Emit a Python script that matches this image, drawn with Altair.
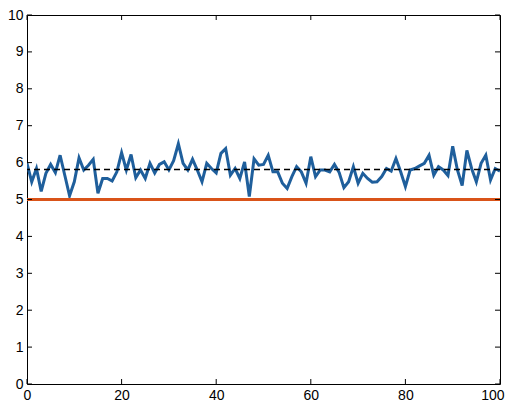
import altair as alt
import pandas as pd

# ---- data ----
x_vals = list(range(101))
series = [
    5.98, 5.48, 5.84, 5.22, 5.71, 5.95, 5.73, 6.20, 5.65, 5.10,
    5.48, 6.13, 5.80, 5.93, 6.09, 5.17, 5.57, 5.57, 5.50, 5.75,
    6.27, 5.80, 6.22, 5.59, 5.80, 5.57, 5.98, 5.72, 5.95, 6.02,
    5.80, 6.05, 6.51, 5.98, 5.80, 6.09, 5.80, 5.48, 5.98, 5.84,
    5.72, 6.25, 6.38, 5.66, 5.84, 5.57, 6.02, 5.08, 6.10, 5.93,
    5.95, 6.20, 5.75, 5.75, 5.44, 5.30, 5.62, 5.89, 5.75, 5.44,
    6.16, 5.62, 5.80, 5.80, 5.75, 5.95, 5.73, 5.32, 5.48, 5.89,
    5.44, 5.71, 5.57, 5.47, 5.48, 5.62, 5.84, 5.77, 6.11, 5.75,
    5.35, 5.80, 5.84, 5.91, 5.98, 6.20, 5.66, 5.89, 5.80, 5.65,
    6.44, 5.80, 5.38, 6.33, 5.84, 5.48, 5.98, 6.20, 5.53, 5.84,
    5.77,
]
threshold = 5.0
mean_level = 5.81
x_ticks = [0, 20, 40, 60, 80, 100]
y_ticks = list(range(0, 11))

W, H = 473, 369
FONT = "Liberation Sans"
BLUE = "#1f5f9c"
ORANGE = "#d95319"

df = pd.DataFrame({"x": x_vals, "y": series})
xt = pd.DataFrame({"t": x_ticks})
yt = pd.DataFrame({"t": y_ticks})

xs = alt.Scale(domain=[0, 100], nice=False, zero=False)
ys = alt.Scale(domain=[0, 10], nice=False, zero=False)

x_axis = alt.Axis(values=x_ticks, ticks=False, domain=False, grid=False,
                  labelFontSize=14, labelFont=FONT, labelColor="black",
                  labelPadding=4, title=None, labelFlush=True,
                  labelFlushOffset=4, labelOverlap=False)
y_axis = alt.Axis(values=y_ticks, ticks=False, domain=False, grid=False,
                  labelFontSize=14, labelFont=FONT, labelColor="black",
                  labelPadding=4, title=None, labelFlush=False,
                  labelOverlap=False)

line = alt.Chart(df).mark_line(color=BLUE, strokeWidth=3, clip=True).encode(
    x=alt.X("x:Q", scale=xs, axis=x_axis),
    y=alt.Y("y:Q", scale=ys, axis=y_axis),
)

thr = alt.Chart().mark_rule(color=ORANGE, strokeWidth=3).encode(
    y=alt.datum(threshold, scale=ys, axis=y_axis)
)
mean = alt.Chart().mark_rule(color="black", strokeWidth=1.5, strokeDash=[6, 4]).encode(
    y=alt.datum(mean_level, scale=ys, axis=y_axis)
)

tick_len = 5
ticks_bottom = alt.Chart(xt).mark_rule(color="black", strokeWidth=1).encode(
    x=alt.X("t:Q", scale=xs, axis=x_axis), y=alt.value(H), y2=alt.value(H - tick_len))
ticks_top = alt.Chart(xt).mark_rule(color="black", strokeWidth=1).encode(
    x=alt.X("t:Q", scale=xs, axis=x_axis), y=alt.value(0), y2=alt.value(tick_len))
ticks_left = alt.Chart(yt).mark_rule(color="black", strokeWidth=1).encode(
    y=alt.Y("t:Q", scale=ys, axis=y_axis), x=alt.value(0), x2=alt.value(tick_len))
ticks_right = alt.Chart(yt).mark_rule(color="black", strokeWidth=1).encode(
    y=alt.Y("t:Q", scale=ys, axis=y_axis), x=alt.value(W - tick_len), x2=alt.value(W))

chart = alt.layer(
    line, thr, mean, ticks_bottom, ticks_top, ticks_left, ticks_right
).properties(
    width=W, height=H,
    autosize=alt.AutoSizeParams(type="none"),
    padding={"left": 19, "top": 7, "right": 5, "bottom": 18},
    background="white",
).configure_view(stroke="black", strokeWidth=1)

chart.save("out.html", embed_options={"renderer": "svg", "actions": False})
